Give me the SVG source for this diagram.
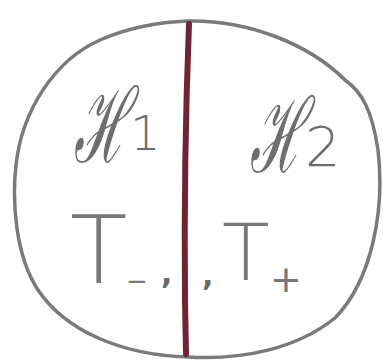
<svg xmlns="http://www.w3.org/2000/svg" width="383" height="362" viewBox="0 0 383 362">
<style>
.outline{fill:none;stroke:#7a7a7a;stroke-width:3.5;stroke-linecap:round}
.divider{fill:none;stroke:#6e2435;stroke-width:6;stroke-linecap:round}
.lbl{fill:#6e6e6e;font-family:"DejaVu Serif",serif}
.sub{fill:#6e6e6e;font-family:"DejaVu Sans",sans-serif;font-weight:200}
.t{fill:#787878;font-family:"DejaVu Sans",sans-serif;font-weight:200}
.op{fill:#787878;font-family:"DejaVu Sans",sans-serif;font-weight:normal}
.c{fill:#6a6a6a;font-family:"DejaVu Sans",sans-serif;font-weight:bold}
</style>
<rect width="383" height="362" fill="#ffffff"/>
<g id="region">
<path class="outline" d="M188,21 C250,20 310,45 345,80 C362,92 372,110 378,150 C385,210 372,280 335,318 C295,350 240,360 188,357 C120,355 65,330 38,290 C15,255 12,200 16,165 C22,110 55,60 100,40 C130,27 160,22 188,21 Z"/>
</g>
<g id="connectors">
<path class="divider" d="M189,24 C186,100 184,200 185,300 L186,354"/>
</g>
<g id="H1">
<text class="lbl" transform="translate(74,162) scale(0.5,1)" font-size="104" font-style="italic">ℋ</text>
<text class="sub" x="130" y="150" font-size="48">1</text>
</g>
<g id="H2">
<text class="lbl" transform="translate(250,172) scale(0.5,1)" font-size="104" font-style="italic">ℋ</text>
<text class="sub" x="305" y="166" font-size="56">2</text>
</g>
<g id="Tminus">
<text class="t" x="70" y="283" font-size="94">T</text>
<text class="op" x="126" y="290" font-size="26">−</text>
<text class="c" x="161" y="284" font-size="30">,</text>
</g>
<g id="Tplus">
<text class="c" x="202" y="286" font-size="30">,</text>
<text class="t" x="222" y="280" font-size="78">T</text>
<text class="op" x="270" y="292" font-size="38">+</text>
</g>
</svg>
